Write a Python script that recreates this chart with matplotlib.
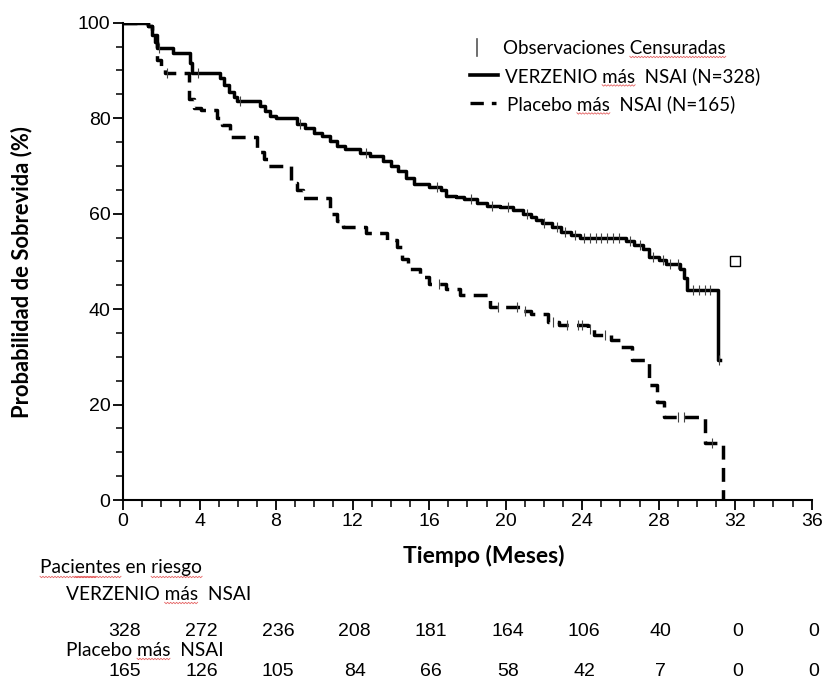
import numpy as np
import matplotlib
matplotlib.use("Agg")
import matplotlib.pyplot as plt
from matplotlib.lines import Line2D

# Kaplan-Meier steps: time (months) -> survival (%) after that time
verz_t = [0, 1.3, 1.5, 1.65, 1.8, 2.6, 3.5, 3.6, 5.07, 5.3, 5.55, 5.8, 5.95, 7.17, 7.4, 7.7,
          8.0, 9.07, 9.5, 10.0, 10.4, 10.8, 11.2, 11.6, 12.4, 12.9, 13.6, 14.0, 14.4, 14.8,
          15.2, 16.0, 16.6, 16.9, 17.4, 17.8, 18.5, 19.0, 19.7, 20.4, 20.9, 21.3, 21.6,
          21.9, 22.4, 22.9, 23.4, 23.9, 26.3, 26.7, 27.2, 27.5, 28.0, 28.4, 29.1, 29.3,
          29.5, 31.1]
verz_s = [100, 99.4, 97.5, 96.0, 94.7, 93.6, 91.5, 89.4, 88.5, 87.0, 85.5, 84.5, 83.6, 82.5,
          81.5, 80.5, 80.0, 78.8, 78.0, 77.0, 76.2, 75.2, 74.2, 73.5, 72.8, 72.0, 71.0, 70.0,
          69.0, 67.5, 66.2, 65.6, 65.0, 63.8, 63.4, 63.0, 62.3, 61.7, 61.3, 60.7, 60.0, 59.3,
          58.7, 58.0, 57.2, 56.2, 55.5, 54.8, 54.3, 53.5, 52.5, 50.9, 50.2, 49.5, 48.3, 46.5,
          44.0, 29.3]
verz_end = 31.2

plac_t = [0, 1.3, 1.5, 1.76, 2.0, 2.2, 3.45, 3.7, 4.1, 4.9, 5.2, 5.6, 7.0, 7.35, 7.6, 8.8,
          9.1, 9.4, 10.8, 11.2, 11.5, 12.7, 13.8, 14.3, 14.6, 14.9, 15.5, 16.0, 16.9, 17.6,
          19.2, 20.9, 21.3, 22.2, 22.8, 24.3, 24.6, 25.5, 26.0, 26.6, 27.5, 27.9, 28.3, 30.4,
          31.35]
plac_s = [100, 99.4, 97.5, 92.2, 90.5, 89.4, 84.0, 82.1, 81.7, 80.0, 78.5, 76.0, 73.0, 71.5,
          69.9, 66.5, 65.0, 63.3, 60.0, 58.5, 57.3, 55.9, 54.5, 53.0, 50.5, 48.5, 46.7, 45.3,
          44.3, 42.9, 40.4, 39.5, 39.0, 37.3, 36.6, 35.8, 34.5, 33.5, 32.1, 29.3, 24.0, 20.5,
          17.4, 11.9, 0]
plac_end = 31.35

# censored observations (months)
verz_cens = [1.9, 3.9, 6.1, 9.25, 12.7, 16.4, 18.2, 19.3, 20.1, 21.1, 22.0, 22.7, 23.1, 23.6,
             24.1, 24.4, 24.7, 25.0, 25.3, 25.6, 25.9, 26.5, 27.0, 27.7, 28.2, 28.6, 29.0,
             29.8, 30.1, 30.4, 30.7, 31.15]
plac_cens = [2.3, 16.5, 19.6, 20.6, 21.0, 22.5, 23.2, 23.8, 24.0, 24.4, 25.2, 29.0, 29.3, 30.8]

ticks_x = [0, 4, 8, 12, 16, 20, 24, 28, 32, 36]
risk_verz = [328, 272, 236, 208, 181, 164, 106, 40, 0, 0]
risk_plac = [165, 126, 105, 84, 66, 58, 42, 7, 0, 0]

label_font = "Lato"
num_font = "Liberation Sans"

fig = plt.figure(figsize=(8.3, 6.89), dpi=100)
ax = fig.add_axes([0.1482, 0.2743, 0.8298, 0.6927])


def fx(px):
    return px / 830


def fy(py):
    return 1 - py / 689


def step_at(ts, ss, x):
    i = np.searchsorted(ts, x, side="right") - 1
    return np.asarray(ss)[i]


def km(ts, ss, end, cens, ls, dashes=None):
    xs = list(ts) + [end]
    ys = list(ss) + [ss[-1]]
    line, = ax.step(xs, ys, where="post", color="black", lw=2.5, ls=ls)
    if dashes:
        line.set_dashes(dashes)
    ax.plot(cens, step_at(ts, ss, cens), ls="none", marker="|", ms=7, mew=0.8,
            color="#444444")


km(verz_t, verz_s, verz_end, verz_cens, "-")
km(plac_t, plac_s, plac_end, plac_cens, "--", dashes=(4, 2.4))

ax.plot([32], [50], marker="s", ms=7, mfc="white", mec="black", mew=1, ls="none")

ax.set_xlim(0, 36)
ax.set_ylim(0, 100)
ax.spines["top"].set_visible(False)
ax.spines["right"].set_visible(False)
for s in ("left", "bottom"):
    ax.spines[s].set_linewidth(1.5)
ax.set_xticks(ticks_x)
ax.set_xticks(np.arange(0, 37, 1), minor=True)
ax.set_yticks([0, 20, 40, 60, 80, 100])
ax.set_yticks(np.arange(0, 101, 5), minor=True)
ax.tick_params(which="major", length=7, width=1.3, labelsize=14, pad=2)
ax.tick_params(which="minor", length=5, width=1.1)
for lab in ax.get_xticklabels() + ax.get_yticklabels():
    lab.set_fontfamily(num_font)

fig.text(fx(22), fy(272), "Probabilidad de Sobrevida (%)", fontsize=15.8, fontweight="bold",
         fontfamily=label_font, rotation=90, ha="center", va="center")
fig.text(fx(484), fy(556), "Tiempo (Meses)", fontsize=16.5, fontweight="bold",
         fontfamily=label_font, ha="center", va="center")

# legend drawn by hand
fig.add_artist(Line2D([fx(477), fx(477)], [fy(39), fy(56)], color="#555555", lw=1.2))
fig.add_artist(Line2D([fx(470), fx(498)], [fy(75), fy(75)], color="black", lw=2.6))
fig.add_artist(Line2D([fx(470), fx(496)], [fy(103), fy(103)], color="black", lw=2.4,
                      dashes=(4, 2.4)))
leg_kw = dict(fontsize=13.5, fontfamily=label_font, va="center", ha="left")
t_obs = fig.text(fx(503), fy(48), "Observaciones Censuradas", **leg_kw)
t_v = fig.text(fx(505), fy(76), "VERZENIO más  NSAI (N=328)", **leg_kw)
t_p = fig.text(fx(507), fy(104), "Placebo más  NSAI (N=165)", **leg_kw)

# patients at risk table
tab_kw = dict(fontsize=13.8, fontfamily=label_font, va="center", ha="left")
t_pac = fig.text(fx(40), fy(568), "Pacientes en riesgo", **tab_kw)
t_tv = fig.text(fx(66), fy(594), "VERZENIO más  NSAI", **tab_kw)
t_tp = fig.text(fx(66), fy(650), "Placebo más  NSAI", **tab_kw)
for t, a, b in zip(ticks_x, risk_verz, risk_plac):
    xf = fig.transFigure.inverted().transform(ax.transData.transform((t, 0)))[0] + 2 / 830
    fig.text(xf, fy(632), str(a), fontsize=14, fontfamily=num_font, ha="center", va="center")
    fig.text(xf, fy(672), str(b), fontsize=14, fontfamily=num_font, ha="center", va="center")

# red spell-check squiggles under some words, as in the source image
fig.canvas.draw()
renderer = fig.canvas.get_renderer()


def text_width(s, props):
    tmp = fig.text(0, 0, s, fontproperties=props)
    w = tmp.get_window_extent(renderer).width
    tmp.remove()
    return w


def squiggle(txt, word):
    s = txt.get_text()
    i0 = s.index(word)
    props = txt.get_fontproperties()
    bb = txt.get_window_extent(renderer)
    x0 = bb.x0 + (text_width(s[:i0], props) if i0 else 0)
    x1 = x0 + text_width(word, props)
    xs = np.arange(x0, x1 + 1, 1.5)
    ys = bb.y0 - 0.5 + np.where(np.arange(len(xs)) % 2 == 0, 0.7, -0.7)
    fig.add_artist(Line2D(xs / fig.bbox.width, ys / fig.bbox.height, color="#e04848",
                          lw=0.6, alpha=0.85))


squiggle(t_obs, "Censuradas")
squiggle(t_v, "más")
squiggle(t_p, "más")
squiggle(t_pac, "Pacientes")
squiggle(t_pac, "en")
squiggle(t_pac, "riesgo")
squiggle(t_tv, "más")
squiggle(t_tp, "más")

fig.savefig("out.png", dpi=100)
